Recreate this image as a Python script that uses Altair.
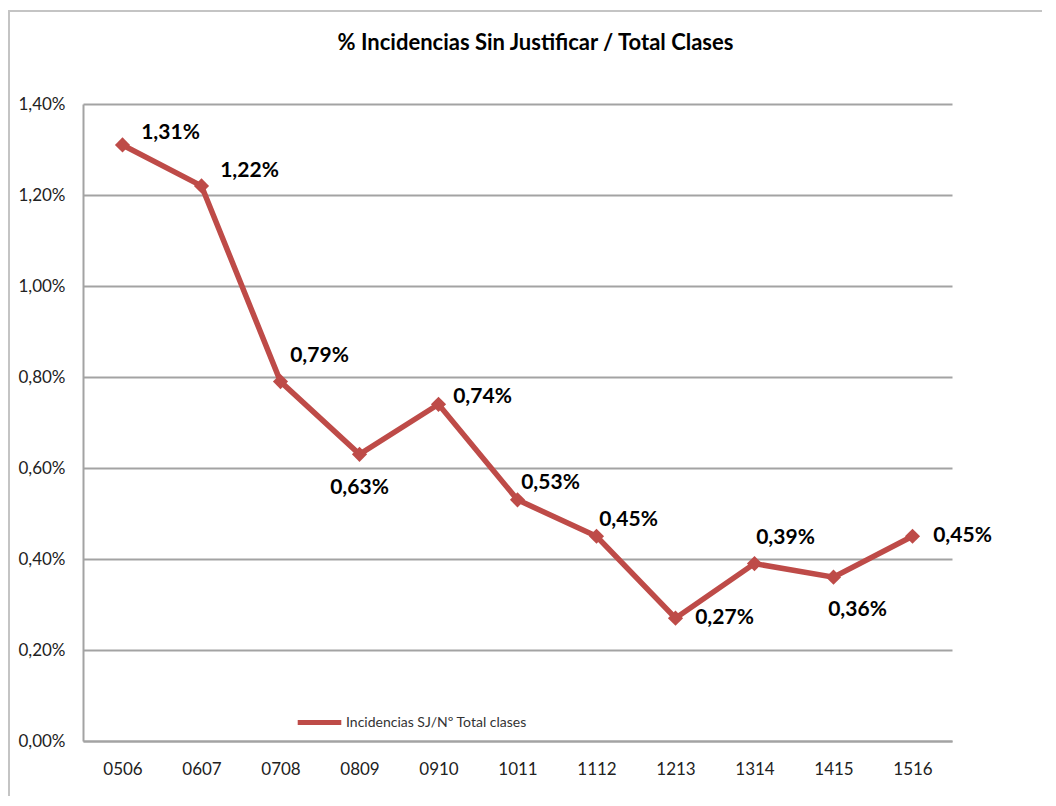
import altair as alt
import pandas as pd

cursos = ["0506", "0607", "0708", "0809", "0910", "1011", "1112", "1213", "1314", "1415", "1516"]
valores = [1.31, 1.22, 0.79, 0.63, 0.74, 0.53, 0.45, 0.27, 0.39, 0.36, 0.45]
serie = "Incidencias SJ/Nº Total clases"
titulo = "% Incidencias Sin Justificar / Total Clases"

df = pd.DataFrame({"curso": cursos, "valor": valores, "serie": serie})
df["etiqueta"] = [f"{v:.2f}".replace(".", ",") + "%" for v in valores]

RED = "#be4b48"
FONT = "Lato"
GRID = "#a3a3a3"

x = alt.X("curso:N", sort=cursos, title=None,
          axis=alt.Axis(labelAngle=0, labelFontSize=17, labelColor="#222222", labelFont=FONT,
                        labelPadding=20, ticks=False, domainColor=GRID, domainWidth=2,
                        grid=False))
y = alt.Y("valor:Q", title=None,
          scale=alt.Scale(domain=[0, 1.4], nice=False),
          axis=alt.Axis(values=[0, 0.2, 0.4, 0.6, 0.8, 1.0, 1.2, 1.4],
                        labelExpr="replace(format(datum.value, '.2f'), '.', ',') + '%'",
                        labelFontSize=17, labelColor="#222222", labelFont=FONT,
                        labelPadding=18, ticks=False, domainColor=GRID, domainWidth=2,
                        gridColor=GRID, gridWidth=2))

base = alt.Chart(df)

frame = alt.Chart(df).mark_rect(fill=None, stroke="#c4c4c4", strokeWidth=1.5).encode(
    x=alt.value(-74), x2=alt.value(1100), y=alt.value(-93), y2=alt.value(900)
)

line = base.mark_line(strokeWidth=5.5).encode(
    x=x, y=y,
    color=alt.Color("serie:N", scale=alt.Scale(domain=[serie], range=[RED]),
                    legend=alt.Legend(title=None, orient="none", legendX=212, legendY=594,
                                      symbolType="stroke", symbolStrokeWidth=5, symbolSize=1900,
                                      labelFontSize=14, labelFont=FONT, labelColor="#333333",
                                      labelOffset=2, labelLimit=0)),
)
points = base.mark_point(shape="diamond", filled=True, size=230, opacity=1, color=RED).encode(x=x, y=y)

offsets = {
    "0506": (48, -12), "0607": (48, -15), "0708": (39, -26), "0809": (0, 34),
    "0910": (44, -7), "1011": (33, -17), "1112": (32, -16), "1213": (49, 0),
    "1314": (31, -26), "1415": (24, 33), "1516": (50, 0),
}
labels = []
for c in cursos:
    dx, dy = offsets[c]
    labels.append(
        base.transform_filter(alt.datum.curso == c)
        .mark_text(dx=dx, dy=dy, fontSize=21, fontWeight="bold", font=FONT, color="#000000",
                   align="center", baseline="middle")
        .encode(x=x, y=y, text="etiqueta:N")
    )

chart = alt.layer(frame, line, points, *labels).properties(
    width=869, height=637,
    background="white",
    title=alt.TitleParams(titulo, fontSize=22, fontWeight="bold", font=FONT, color="#000000",
                          anchor="middle", frame="group", offset=-45, dx=18),
    autosize=alt.AutoSizeParams(type="none"),
    padding={"left": 75, "top": 96, "right": 90, "bottom": 55},
).configure_view(strokeWidth=0, stroke=None)

chart.save("out.html", embed_options={"renderer": "svg", "actions": False})
